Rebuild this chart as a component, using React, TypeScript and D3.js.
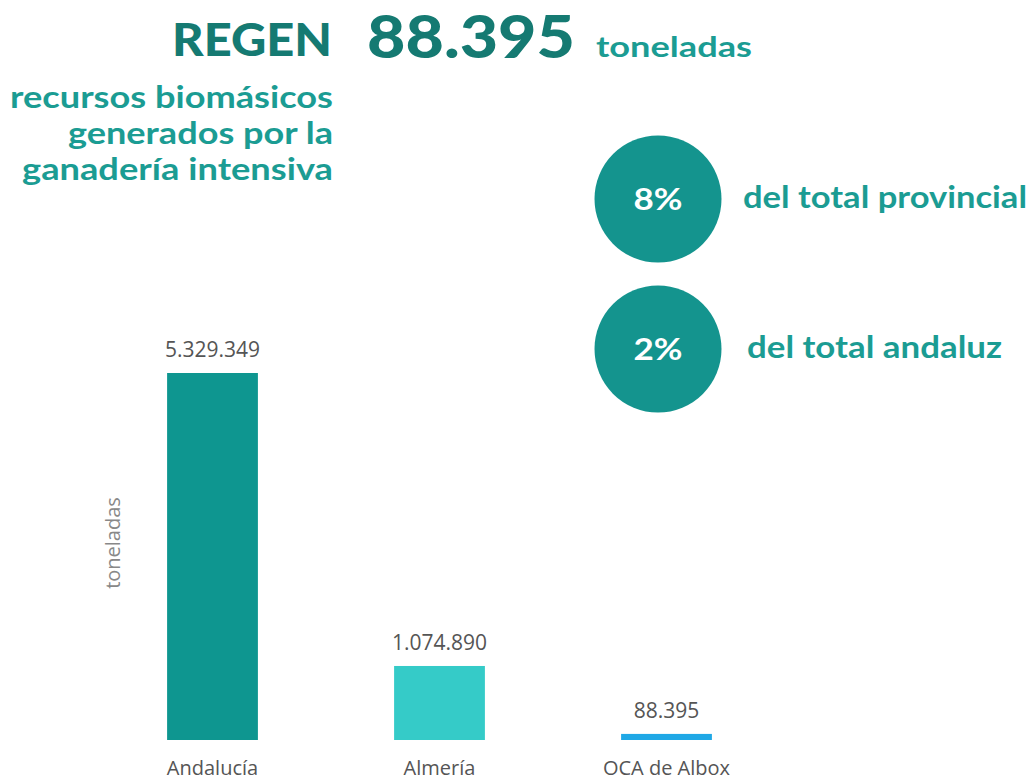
import React, { useEffect, useRef } from 'react'
import { select, scaleBand, scaleLinear, formatLocale } from 'd3'

// data
const categories = ['Andalucía', 'Almería', 'OCA de Albox']
const values = [5329349, 1074890, 88395]
const barColors = ['#0e9690', '#35cbc8', '#1fa8e6']

const headline = 'REGEN'
const headlineValue = 88395
const headlineUnit = 'toneladas'
const subtitleLines = ['recursos biomásicos', 'generados por la', 'ganadería intensiva']

const shares = [8, 2]
const shareLabels = ['del total provincial', 'del total andaluz']

const es = formatLocale({ decimal: ',', thousands: '.', grouping: [3], currency: ['', '€'] })
const fmt = es.format(',d')

const WIDTH = 1031
const HEIGHT = 780

export default function App() {
  const ref = useRef<SVGSVGElement | null>(null)

  useEffect(() => {
    const svg = select(ref.current)
    svg.selectAll('*').remove()

    const font = 'Lato, "Open Sans", sans-serif'
    const bodyFont = '"Open Sans", "Noto Sans", sans-serif'

    // header -- the original face is wider than Lato, so stretch to fit
    const head = svg.append('g').attr('font-family', font).attr('font-weight', 900)
    head.append('text')
      .attr('x', 172).attr('y', 56)
      .attr('font-size', 45)
      .attr('textLength', 160).attr('lengthAdjust', 'spacingAndGlyphs')
      .attr('fill', '#157a72')
      .text(headline)
    head.append('text')
      .attr('x', 367).attr('y', 58)
      .attr('font-size', 59)
      .attr('textLength', 208).attr('lengthAdjust', 'spacingAndGlyphs')
      .attr('fill', '#157a72')
      .text(fmt(headlineValue))
    head.append('text')
      .attr('x', 596).attr('y', 57)
      .attr('font-size', 29)
      .attr('font-weight', 700)
      .attr('textLength', 156).attr('lengthAdjust', 'spacingAndGlyphs')
      .attr('fill', '#1b9c93')
      .text(headlineUnit)

    const subStart = [10, 68, 22]
    svg.append('g')
      .attr('font-family', font).attr('font-weight', 700)
      .attr('font-size', 31).attr('fill', '#1b9c93')
      .selectAll('text').data(subtitleLines).join('text')
      .attr('x', (d, i) => subStart[i])
      .attr('y', (d, i) => 108 + i * 36)
      .attr('textLength', (d, i) => 333 - subStart[i])
      .attr('lengthAdjust', 'spacingAndGlyphs')
      .text(d => d)

    // share circles
    const sg = svg.append('g').attr('font-family', font)
    const shareY = scaleBand<number>().domain(shares.map((d, i) => i)).range([136, 412]).paddingInner(0.16)
    const labelX = [85, 89]
    const labelW = [284, 255]
    const row = sg.selectAll('g').data(shares).join('g')
      .attr('transform', (d, i) => `translate(658, ${shareY(i)! + shareY.bandwidth() / 2})`)
    row.append('circle')
      .attr('r', 63.5)
      .attr('fill', '#14948e')
    row.append('text')
      .attr('text-anchor', 'middle')
      .attr('dy', '0.36em')
      .attr('font-size', 31).attr('font-weight', 700)
      .attr('textLength', 49).attr('lengthAdjust', 'spacingAndGlyphs')
      .attr('fill', '#ffffff')
      .text(d => d + '%')
    row.append('text')
      .attr('x', (d, i) => labelX[i])
      .attr('dy', '0.3em')
      .attr('font-size', 30).attr('font-weight', 700)
      .attr('textLength', (d, i) => labelW[i]).attr('lengthAdjust', 'spacingAndGlyphs')
      .attr('fill', '#1b9c93')
      .text((d, i) => shareLabels[i])

    // bar chart
    const x = scaleBand().domain(categories).range([99, 780]).paddingInner(0.6).paddingOuter(0.3)
    const y = scaleLinear().domain([0, values[0]]).range([740, 373])

    const bars = svg.append('g')
    bars.selectAll('rect').data(values).join('rect')
      .attr('x', (d, i) => x(categories[i])!)
      .attr('width', x.bandwidth())
      .attr('y', d => y(d))
      .attr('height', d => y(0) - y(d))
      .attr('fill', (d, i) => barColors[i])

    bars.selectAll('text.val').data(values).join('text')
      .attr('class', 'val')
      .attr('x', (d, i) => x(categories[i])! + x.bandwidth() / 2)
      .attr('y', d => y(d) - 16)
      .attr('text-anchor', 'middle')
      .attr('font-family', bodyFont)
      .attr('font-size', 21)
      .attr('fill', '#555')
      .text(d => fmt(d))

    bars.selectAll('text.cat').data(categories).join('text')
      .attr('class', 'cat')
      .attr('x', d => x(d)! + x.bandwidth() / 2)
      .attr('y', 775)
      .attr('text-anchor', 'middle')
      .attr('font-family', bodyFont)
      .attr('font-size', 20)
      .attr('fill', '#555')
      .text(d => d)

    svg.append('text')
      .attr('transform', 'translate(120, 543) rotate(-90)')
      .attr('text-anchor', 'middle')
      .attr('font-family', bodyFont)
      .attr('font-size', 20)
      .attr('fill', '#888')
      .text('toneladas')
  }, [])

  return (
    <svg ref={ref} width={WIDTH} height={HEIGHT}
      style={{ position: 'absolute', left: 0, top: 0, background: '#fff' }} />
  )
}
